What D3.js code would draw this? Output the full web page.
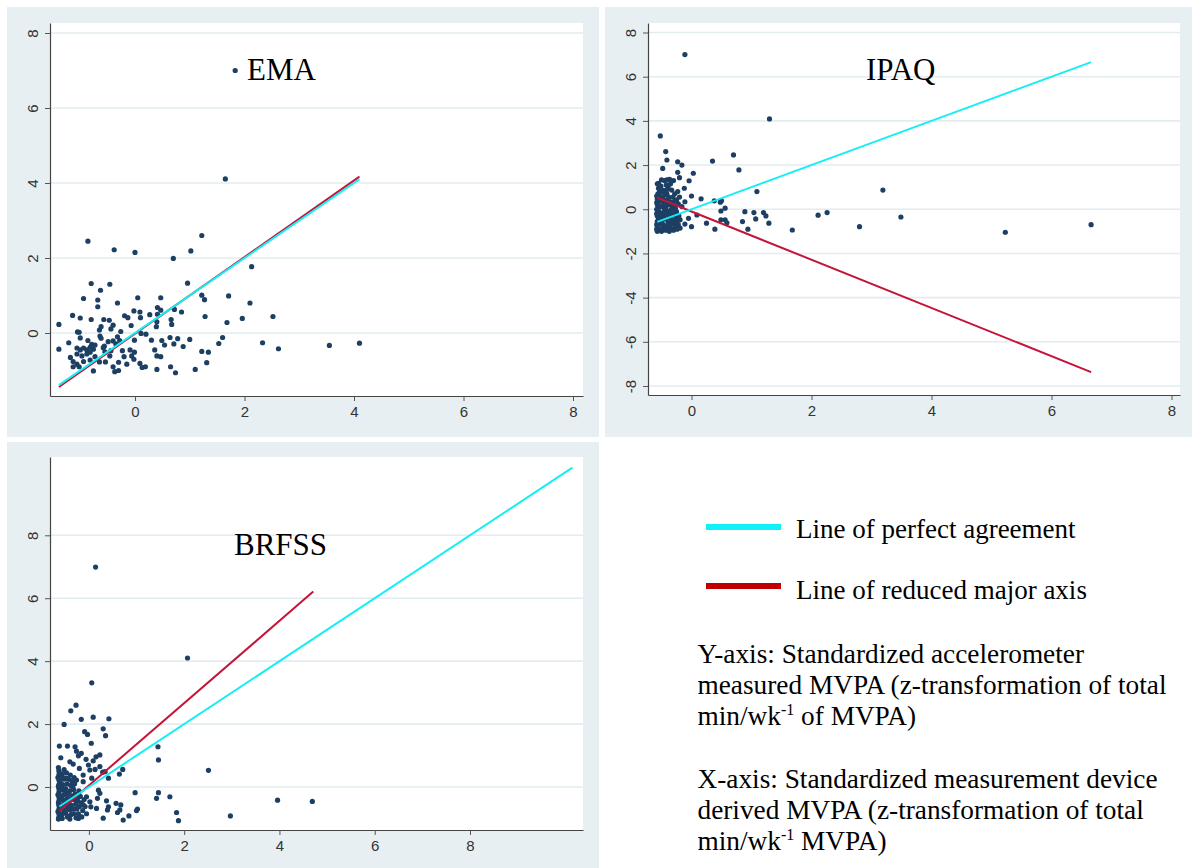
<!DOCTYPE html>
<html>
<head>
<meta charset="utf-8">
<script src="https://cdn.jsdelivr.net/npm/d3@7"></script>
<style>
html,body{margin:0;padding:0;background:#fff;}
svg{display:block;}
</style>
</head>
<body>
<svg id="chart" width="1192" height="868"></svg>
<script>
// ---------------- DATA ----------------
const xTicks = [0, 2, 4, 6, 8];
const emaYTicks = [0, 2, 4, 6, 8];
const ipaqYTicks = [-8, -6, -4, -2, 0, 2, 4, 6, 8];
const brfssYTicks = [0, 2, 4, 6, 8];

const panelTitles = ["EMA", "IPAQ", "BRFSS"];

// EMA: [device-derived z, accelerometer z]
const emaPoints = [
[-0.86,2.45],[-0.38,2.22],[0.00,2.15],[0.70,1.99],[1.02,2.19],[1.22,2.60],
[-0.80,1.32],[-0.46,1.30],[-0.63,1.14],[-0.94,0.92],[-0.68,0.88],[-0.68,0.70],[-0.32,0.80],[0.05,0.94],[0.47,0.94],[0.96,1.33],[1.22,1.01],[1.27,0.89],[1.71,0.99],
[-1.39,0.23],[-1.14,0.47],[-1.00,0.40],[-0.80,0.36],[-0.57,0.36],[-0.47,0.34],[-0.62,0.17],[-0.65,0.08],[-0.44,0.11],[-0.40,0.21],[-0.26,0.04],[-0.19,0.46],[-0.13,0.41],[-0.02,0.59],[0.09,0.56],[0.10,0.41],[-0.07,0.20],[0.27,0.49],[0.41,0.68],[0.47,0.61],[0.41,0.50],[0.40,0.30],[0.39,0.17],[0.66,0.36],[0.67,0.23],[0.72,0.63],[0.85,0.56],[1.28,0.44],[1.68,0.28],
[0.11,-0.01],[0.20,-0.03],[0.30,-0.19],[-0.01,-0.19],[-0.32,-0.10],[-0.28,-0.20],[0.49,-0.20],[0.64,-0.12],[0.78,-0.15],[1.00,-0.17],[0.71,-0.29],[0.88,-0.36],[1.60,-0.12],[1.53,-0.28],
[-1.39,-0.43],[-1.21,-0.26],[-1.00,-0.13],[-1.05,0.03],[-1.02,0.02],[-0.86,-0.20],[-0.79,-0.30],[-0.73,-0.32],[-0.64,-0.08],[-0.62,-0.14],[-0.49,-0.23],[-0.40,-0.21],[-0.58,-0.39],[-0.44,-0.47],[-0.35,-0.29],
[-1.06,-0.40],[-1.00,-0.45],[-0.94,-0.40],[-0.88,-0.45],[-0.82,-0.38],[-0.76,-0.43],[-1.06,-0.56],[-0.97,-0.61],[-0.88,-0.56],[-0.82,-0.51],[-1.13,-0.76],[-1.06,-0.83],[-1.13,-0.90],[-1.02,-0.90],[-0.94,-0.76],[-0.82,-0.72],[-0.76,-1.01],[-0.73,-0.63],[-0.56,-0.35],[-0.55,-0.50],[-0.65,-0.77],[-0.54,-0.77],[-0.46,-0.61],[-0.40,-0.90],[-0.37,-1.03],[-0.30,-0.78],[-0.30,-1.00],[-0.23,-0.47],[-0.20,-0.63],[-0.15,-0.83],[-0.09,-0.45],[-0.06,-0.61],[-0.01,-0.51],[-0.02,-0.70],[0.09,-0.81],[0.13,-0.92],[0.19,-0.90],[0.40,-0.97],[0.36,-0.45],[0.40,-0.61],[0.47,-0.63],[0.54,-0.32],[0.65,-0.90],[0.74,-1.06],[1.10,-0.97],[1.22,-0.49],[1.34,-0.51],[1.31,-0.79],[-1.18,-0.65],
[2.13,1.77],[2.10,0.80],[1.96,0.39],[2.52,0.44],[2.33,-0.26],[2.62,-0.42],[3.55,-0.33],[4.10,-0.27],[1.65,4.11],[1.83,7.00]
];

const ipaqPoints = [
[-0.11,7.00],[1.30,4.09],[-0.52,3.32],[-0.43,2.61],[-0.41,2.23],[-0.48,1.85],[-0.23,2.15],[-0.16,2.00],[0.35,2.18],[0.70,2.46],[0.79,1.78],[-0.23,1.67],[0.03,1.63],[-0.20,1.43],[-0.04,1.29],[-0.55,1.17],[-0.50,1.33],[-0.41,1.33],[-0.36,1.33],[-0.12,0.95],[-0.23,0.80],[-0.39,1.02],[-0.33,0.87],[0.00,0.60],[0.16,0.47],[1.09,0.80],[0.38,0.38],[0.48,0.32],[0.50,0.38],[0.56,0.05],[0.49,-0.08],[0.09,-0.26],[0.89,-0.11],[1.04,-0.15],[1.20,-0.15],[1.24,-0.30],[1.07,-0.44],[0.85,-0.56],[1.29,-0.63],[0.49,-0.48],[0.56,-0.48],[0.59,-0.61],[0.25,-0.63],[0.39,-0.90],[0.94,-0.90],[1.68,-0.94],[-0.05,-0.41],[-0.11,-0.67],[0.00,-0.79],[-0.19,-0.48],[-0.16,0.12],[-0.11,0.34],[-0.25,0.42],[-0.30,0.12],[-0.25,-0.11],
[3.19,0.87],[2.11,-0.27],[2.26,-0.15],[3.49,-0.35],[2.80,-0.79],[5.23,-1.04],[6.66,-0.70],
[-0.57,1.15],[-0.55,0.95],[-0.56,0.70],[-0.52,0.60],[-0.57,0.45],[-0.54,0.35],[-0.57,0.20],[-0.53,0.10],[-0.56,-0.05],[-0.52,-0.15],[-0.57,-0.30],[-0.55,-0.40],[-0.57,-0.55],[-0.53,-0.65],[-0.56,-0.80],[-0.54,-0.90],[-0.57,-1.00],[-0.50,-1.00],[-0.48,-0.85],[-0.47,-0.70],[-0.49,-0.50],[-0.46,-0.35],[-0.48,-0.20],[-0.45,0.00],[-0.49,0.15],[-0.46,0.30],[-0.48,0.50],[-0.44,0.65],[-0.47,0.85],[-0.42,1.10],[-0.40,0.90],[-0.41,0.70],[-0.38,0.55],[-0.42,0.40],[-0.39,0.20],[-0.43,0.05],[-0.40,-0.10],[-0.38,-0.30],[-0.42,-0.45],[-0.39,-0.60],[-0.41,-0.80],[-0.43,-0.95],[-0.37,-1.00],[-0.35,-0.85],[-0.33,-0.65],[-0.34,-0.45],[-0.32,-0.25],[-0.35,-0.05],[-0.33,0.15],[-0.36,0.35],[-0.31,0.55],[-0.28,0.70],[-0.29,0.35],[-0.27,0.05],[-0.28,-0.20],[-0.26,-0.40],[-0.29,-0.60],[-0.27,-0.80],[-0.30,-0.95],[-0.24,-0.90],[-0.22,-0.70],[-0.23,-0.50],[-0.21,-0.30],[-0.22,0.25],[-0.20,0.55],[-0.45,1.30],[-0.37,1.35],[-0.30,1.30],[-0.52,0.80],
[-0.58,0.00],[-0.58,-0.20],[-0.58,-0.70],[-0.58,-0.90],[-0.58,0.30],[-0.58,0.60],[-0.50,0.40],[-0.50,-0.30],[-0.50,-0.60],[-0.44,-0.20],[-0.44,-0.80],[-0.44,0.20],[-0.36,-0.15],[-0.36,-0.75],[-0.31,-0.50],[-0.31,0.00],[-0.25,-0.65],[-0.19,-0.85],[-0.53,0.85],[-0.51,1.05],[-0.45,0.75],[-0.35,1.15]
];

const brfssPoints = [
[0.14,6.99],[2.07,4.10],[0.06,3.31],[2.51,0.53],[2.97,-0.92],[3.96,-0.42],[4.69,-0.46],
[-0.27,2.60],[-0.38,2.42],[-0.52,1.99],[-0.16,2.15],[0.09,2.22],[0.42,2.17],[-0.09,1.76],[-0.03,1.67],[0.30,1.85],[0.35,1.63],[0.05,1.39],[-0.62,1.30],[-0.45,1.30],[-0.29,1.28],[-0.26,1.14],[-0.59,0.93],[-0.22,0.99],[-0.16,1.07],[-0.06,0.88],[0.09,0.83],[0.15,0.96],[0.23,1.02],[-0.40,0.80],[-0.33,0.73],[-0.20,0.59],[-0.01,0.70],[0.02,0.54],[0.13,0.56],[0.23,0.65],[0.29,0.47],[0.34,0.49],[0.71,0.56],[0.64,0.41],[0.41,0.28],[-0.12,0.38],[0.06,0.28],[-0.26,0.22],[-0.12,0.17],[0.20,-0.10],[0.23,-0.20],[0.18,-0.36],[-0.05,-0.31],[0.02,-0.47],[-0.12,-0.57],[0.04,-0.63],[0.16,-0.68],[0.37,-0.44],[0.41,-0.63],[0.39,-0.73],[0.30,-0.99],[0.57,-0.52],[0.67,-0.57],[0.65,-0.73],[0.60,-0.81],[0.72,-1.05],[0.84,-0.92],[0.97,-0.18],[1.00,-0.75],[1.02,-0.70],[1.45,1.28],[1.46,0.86],[1.42,-0.36],[1.46,-0.18],[1.70,-0.31],[1.84,-0.81],[1.88,-1.07],[-0.22,-1.00],[-0.43,-0.94],
[-0.64,0.62],[-0.62,0.45],[-0.65,0.30],[-0.61,0.15],[-0.64,0.02],[-0.62,-0.12],[-0.65,-0.25],[-0.61,-0.38],[-0.64,-0.50],[-0.62,-0.65],[-0.65,-0.78],[-0.61,-0.90],[-0.64,-1.02],[-0.56,-1.00],[-0.55,-0.85],[-0.57,-0.70],[-0.54,-0.55],[-0.56,-0.40],[-0.53,-0.25],[-0.57,-0.08],[-0.55,0.08],[-0.53,0.25],[-0.56,0.40],[-0.52,0.55],[-0.47,0.45],[-0.48,0.28],[-0.46,0.10],[-0.49,-0.05],[-0.47,-0.20],[-0.45,-0.35],[-0.48,-0.50],[-0.46,-0.68],[-0.49,-0.82],[-0.45,-0.95],[-0.40,-1.02],[-0.38,-0.88],[-0.40,-0.72],[-0.37,-0.58],[-0.39,-0.42],[-0.36,-0.28],[-0.40,-0.12],[-0.38,0.05],[-0.36,0.20],[-0.39,0.38],[-0.31,0.30],[-0.30,0.10],[-0.32,-0.08],[-0.29,-0.22],[-0.31,-0.40],[-0.28,-0.55],[-0.30,-0.70],[-0.32,-0.85],[-0.27,-0.98],[-0.22,-0.85],[-0.20,-0.62],[-0.23,-0.45],[-0.18,-0.30],[-0.21,-0.12],[-0.16,-0.50],[-0.13,-0.75],[-0.15,-0.95],[-0.10,-0.40],[-0.08,-0.62],[-0.05,-0.85],
[-0.63,0.52],[-0.63,0.38],[-0.63,0.22],[-0.63,0.08],[-0.63,-0.05],[-0.63,-0.18],[-0.63,-0.32],[-0.63,-0.44],[-0.63,-0.58],[-0.63,-0.72],[-0.63,-0.85],[-0.63,-0.96],[-0.58,0.30],[-0.58,0.00],[-0.58,-0.30],[-0.58,-0.60],[-0.58,-0.90],[-0.51,-0.12],[-0.51,-0.42],[-0.51,-0.75],[-0.43,-0.58],[-0.43,-0.20],[-0.43,0.25],[-0.34,-0.70],[-0.34,0.00],[-0.25,-0.70],[-0.25,-0.35]
];

// fitted lines: [start, end] as [x, y]
const emaPerfect = [[-1.39,-1.39],[4.10,4.10]];
const emaRMA = [[-1.39,-1.44],[4.10,4.17]];
const ipaqPerfect = [[-0.57,-0.57],[6.66,6.66]];
const ipaqRMA = [[-0.57,0.52],[6.66,-7.37]];
const brfssPerfect = [[-0.62,-0.62],[10.15,10.15]];
const brfssRMA = [[-0.62,-0.76],[4.71,6.21]];

const legendLabels = ["Line of perfect agreement", "Line of reduced major axis"];
const yAxisNote = ["Y-axis: Standardized accelerometer", "measured MVPA (z-transformation of total", ["min/wk", "-1", " of MVPA)"]];
const xAxisNote = ["X-axis: Standardized measurement device", "derived MVPA (z-transformation of total", ["min/wk", "-1", " MVPA)"]];

// ---------------- LAYOUT / STYLE ----------------
const C = {
  bg: "#e8eff2", grid: "#e3ecef", axis: "#444", tick: "#555", label: "#333",
  dot: "#1c3f63", cyan: "#14eef4", red: "#c4143a", legRed: "#c00000", legCyan: "#0ff0f8"
};
const layouts = [
  {bg:[7,7,592,430], plot:[50,23,583,396], xa:[0,135,8,573], ya:[0,333,8,33], titlePos:[247,80]},
  {bg:[605,7,587,430], plot:[648,23,1180,395], xa:[0,691.5,8,1171.5], ya:[-8,386,8,32.5], titlePos:[866,80]},
  {bg:[7,442,592,426], plot:[50,457,583,830], xa:[0,88.9,8,470], ya:[0,787,8,535.3], titlePos:[234,555]}
];
const panelData = [
  {pts: emaPoints, perfect: emaPerfect, rma: emaRMA, yt: emaYTicks},
  {pts: ipaqPoints, perfect: ipaqPerfect, rma: ipaqRMA, yt: ipaqYTicks},
  {pts: brfssPoints, perfect: brfssPerfect, rma: brfssRMA, yt: brfssYTicks}
];

const svg = d3.select("#chart");

panelData.forEach((pd, i) => {
  const L = layouts[i];
  const [px0, py0, px1, py1] = L.plot;
  const xa = d3.scaleLinear().domain([L.xa[0], L.xa[2]]).range([L.xa[1], L.xa[3]]);
  const ya = d3.scaleLinear().domain([L.ya[0], L.ya[2]]).range([L.ya[1], L.ya[3]]);
  const x = d3.scaleLinear().domain([xa.invert(px0), xa.invert(px1)]).range([px0, px1]);
  const y = d3.scaleLinear().domain([ya.invert(py1), ya.invert(py0)]).range([py1, py0]);

  const g = svg.append("g");
  g.append("rect").attr("x", L.bg[0]).attr("y", L.bg[1]).attr("width", L.bg[2]).attr("height", L.bg[3]).attr("fill", C.bg);
  g.append("rect").attr("x", px0).attr("y", py0).attr("width", px1 - px0).attr("height", py1 - py0).attr("fill", "#fff");

  // gridlines
  g.append("g").selectAll("line").data(pd.yt).join("line")
    .attr("x1", px0).attr("x2", px1)
    .attr("y1", d => y(d)).attr("y2", d => y(d))
    .attr("stroke", C.grid).attr("stroke-width", 1.6);

  // axes
  const gy = g.append("g").attr("transform", `translate(${px0},0)`)
    .call(d3.axisLeft(y).tickValues(pd.yt).tickSize(5).tickSizeOuter(0).tickFormat(d3.format("d")));
  const gx = g.append("g").attr("transform", `translate(0,${py1})`)
    .call(d3.axisBottom(x).tickValues(xTicks).tickSize(5).tickSizeOuter(0).tickFormat(d3.format("d")));
  [gx, gy].forEach(a => {
    a.select(".domain").attr("stroke", C.axis).attr("stroke-width", 1.2);
    a.selectAll(".tick line").attr("stroke", C.tick).attr("stroke-width", 1);
    a.selectAll("text").attr("fill", C.label).style("font-family", "'Liberation Sans', Arial, sans-serif").style("font-size", "15px");
  });
  gx.selectAll("text").attr("y", 10).attr("dy", "0.71em");
  gy.selectAll("text").attr("x", null).attr("dy", null)
    .attr("text-anchor", "middle").attr("transform", "translate(-12,0) rotate(-90)");
  gy.selectAll("text").text(d => d3.format("d")(d).replace("\u2212", "-"));

  // points
  g.append("g").selectAll("circle").data(pd.pts).join("circle")
    .attr("cx", d => x(d[0])).attr("cy", d => y(d[1])).attr("r", 2.6).attr("fill", C.dot);

  // lines
  const line = d3.line().x(d => x(d[0])).y(d => y(d[1]));
  g.append("path").datum(pd.rma).attr("d", line).attr("stroke", C.red).attr("stroke-width", 2).attr("fill", "none");
  g.append("path").datum(pd.perfect).attr("d", line).attr("stroke", C.cyan).attr("stroke-width", 2).attr("fill", "none");

  // title
  g.append("text").attr("x", L.titlePos[0]).attr("y", L.titlePos[1]).text(panelTitles[i])
    .style("font-family", "'Liberation Serif', 'Times New Roman', serif").style("font-size", "31px").attr("fill", "#000");
});

// ---------------- LEGEND ----------------
const leg = svg.append("g").style("font-family", "'Liberation Serif', 'Times New Roman', serif").attr("fill", "#000");
const legRows = [{c: C.legCyan, ly: 527, ty: 538}, {c: C.legRed, ly: 586, ty: 599}];
legRows.forEach((r, i) => {
  leg.append("line").attr("x1", 706).attr("x2", 781).attr("y1", r.ly).attr("y2", r.ly).attr("stroke", r.c).attr("stroke-width", 6);
  leg.append("text").attr("x", 796).attr("y", r.ty).style("font-size", "27px").text(legendLabels[i]);
});

function note(lines, y0) {
  lines.forEach((ln, i) => {
    const t = leg.append("text").attr("x", 697.5).attr("y", y0 + i * 30.8).style("font-size", "27.3px");
    if (typeof ln === "string") t.text(ln);
    else {
      t.append("tspan").text(ln[0]);
      t.append("tspan").attr("dy", -10).style("font-size", "16px").text(ln[1]);
      t.append("tspan").attr("dy", 10).text(ln[2]);
    }
  });
}
note(yAxisNote, 663);
note(xAxisNote, 788);
</script>
</body>
</html>
